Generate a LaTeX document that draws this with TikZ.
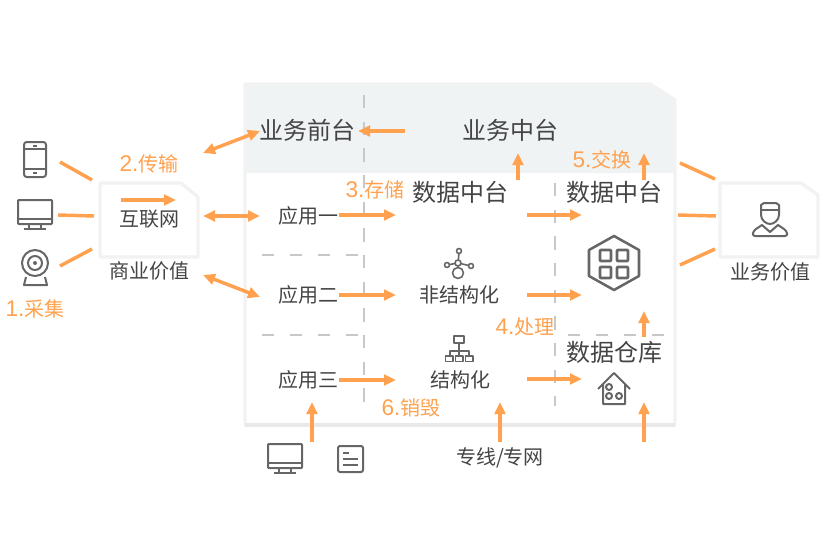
\documentclass[tikz,border=0pt]{standalone}
\usepackage{fontspec}
\setmainfont{Noto Sans CJK SC}
\newfontfamily\digitfont{Liberation Sans}
\usetikzlibrary{arrows.meta,positioning}
\definecolor{accent}{HTML}{FFA14F}
\definecolor{ink}{HTML}{444444}
\definecolor{iconc}{HTML}{666666}
\definecolor{band}{HTML}{F0F3F4}
\definecolor{edge}{HTML}{F2F2F2}
\definecolor{edgedark}{HTML}{E9E9E9}
\definecolor{dashc}{HTML}{C8C8C8}
\newcommand{\stepno}[1]{{\digitfont\fontsize{17}{17}\selectfont #1.}}
\tikzset{
  big/.style={text=ink, inner sep=0pt, font=\fontsize{18}{18}\selectfont},
  mid/.style={text=ink, inner sep=0pt, font=\fontsize{15}{15}\selectfont},
  step label/.style={text=accent, inner sep=0pt, font=\fontsize{15}{15}\selectfont},
  arrow/.style={-{Triangle[length=9pt,width=8pt]}, accent, line width=2.6pt},
  both/.style={{Triangle[length=9pt,width=8pt]}-{Triangle[length=9pt,width=8pt]}, accent, line width=2.6pt},
  link/.style={accent, line width=2.6pt},
  divider/.style={dashc, line width=1.5pt, dash pattern=on 10pt off 10pt},
  thin divider/.style={dashc, line width=.8pt, dash pattern=on 9pt off 12pt},
  icon/.style={iconc, line width=1.5pt, line join=round},
  small icon/.style={iconc, line width=1.2pt, line join=round},
  sheet/.style={edge, line width=2.5pt, line join=round},
  sheet foot/.style={edgedark, line width=3pt},
  pics/screen/.style={code={
    \draw[icon, rounded corners=.5pt] (-17,-12) rectangle (17,12);
    \draw[icon] (-17,7) -- (17,7) (-6,12) -- (-6,17) (6,12) -- (6,17) (-11,17) -- (11,17);
  }}
}
\begin{document}
\begin{tikzpicture}[x=0.75pt, y=-0.75pt]
\useasboundingbox (0,0) rectangle (825,560);
% main panel
\fill[band] (245,84) -- (650,84) -- (675,100) -- (675,173) -- (245,173) -- cycle;
\draw[sheet] (245,84) -- (650,84) -- (675,100) -- (675,425) -- (245,425) -- cycle;
\draw[sheet foot] (245,425) -- (675,425);
\draw[divider] (364,95) -- (364,408);
\draw[divider] (555,183) -- (555,406);
\draw[thin divider] (262,255) -- (360,255);
\draw[thin divider] (262,335) -- (360,335);
\draw[thin divider] (568,335) -- (665,335);
% side documents
\draw[sheet, fill=white] (100,183) -- (181,183) -- (198,197) -- (198,257) -- (100,257) -- cycle;
\draw[sheet, fill=white] (720,183) -- (801,183) -- (818,195) -- (818,257) -- (720,257) -- cycle;
% texts
\node[big] (front) at (307,130) {业务前台};
\node[big] (middle) at (510,130) {业务中台};
\node[big] (dataA) at (460,192) {数据中台};
\node[big] (dataB) at (614,192) {数据中台};
\node[big] (store) at (614,352) {数据仓库};
\node[mid] (web) at (149,219) {互联网};
\node[mid] (bizval) at (149,271) {商业价值};
\node[mid] (userval) at (770,272) {业务价值};
\node[mid] (appA) at (308,216) {应用一};
\node[mid] (appB) at (308,295) {应用二};
\node[mid] (appC) at (308,380) {应用三};
\node[mid] (unstruct) at (459,295) {非结构化};
\node[mid] (struct) at (460,380) {结构化};
\node[mid] (line) at (500,458) {专线/专网};
\node[step label] (s1) at (35,309) {\stepno{1}采集};
\node[step label] (s2) at (149,164) {\stepno{2}传输};
\node[step label] (s3) at (375,190) {\stepno{3}存储};
\node[step label] (s4) at (525,327) {\stepno{4}处理};
\node[step label] (s5) at (602,160) {\stepno{5}交换};
\node[step label] (s6) at (411,408) {\stepno{6}销毁};
% free ends
\coordinate (p1) at (60,162); \coordinate (q1) at (92,180);
\coordinate (p2) at (58,215); \coordinate (q2) at (94,216);
\coordinate (p3) at (60,266); \coordinate (q3) at (92,249);
\coordinate (p4) at (680,163); \coordinate (q4) at (715,179);
\coordinate (p5) at (678,215); \coordinate (q5) at (716,216);
\coordinate (p6) at (680,265); \coordinate (q6) at (715,249);
\coordinate (w1) at (121,200); \coordinate (w2) at (176,200);
\coordinate (b1) at (203,153); \coordinate (b2) at (203,216); \coordinate (b3) at (203,275);
\coordinate (b4) at (582,215); \coordinate (b5) at (582,295); \coordinate (b6) at (582,379);
\coordinate (a1) at (396,215); \coordinate (a2) at (396,295); \coordinate (a3) at (396,380);
\coordinate (m1) at (527,215); \coordinate (m2) at (527,295); \coordinate (m3) at (527,379);
\coordinate (u1) at (518,180); \coordinate (u2) at (518,153);
\coordinate (u3) at (644,180); \coordinate (u4) at (644,153);
\coordinate (u5) at (644,337); \coordinate (u6) at (644,311);
\coordinate (d1) at (312,442); \coordinate (d2) at (312,402);
\coordinate (d3) at (500,442); \coordinate (d4) at (500,402);
\coordinate (d5) at (644,442); \coordinate (d6) at (644,402);
\coordinate (f1) at (405,131); \coordinate (f2) at (358,131);
\coordinate (g1) at (260,131); \coordinate (g2) at (260,216); \coordinate (g3) at (260,297);
\coordinate (t1) at (339,215); \coordinate (t2) at (339,295); \coordinate (t3) at (339,380);
% connectors
\draw[link] (p1) -- (q1);
\draw[link] (p2) -- (q2);
\draw[link] (p3) -- (q3);
\draw[link] (p4) -- (q4);
\draw[link] (p5) -- (q5);
\draw[link] (p6) -- (q6);
\draw[arrow] (w1) -- (w2);
\draw[both] (b1) -- (g1);
\draw[both] (b2) -- (g2);
\draw[both] (b3) -- (g3);
\draw[arrow] (f1) -- (f2);
\foreach \a/\b in {t1/a1,t2/a2,t3/a3,m1/b4,m2/b5,m3/b6,u1/u2,u3/u4,u5/u6,d1/d2,d3/d4,d5/d6}
  \draw[arrow] (\a) -- (\b);
% icons
\draw[icon, rounded corners=2pt] (24,142) rectangle (46,177);
\draw[icon] (24,149) -- (46,149) (24,169) -- (46,169) (33,145.5) -- (37,145.5) (33,173) -- (37,173);
\pic at (35,212) {screen};
\pic at (285,456) {screen};
\draw[icon] (35,263) circle (13) (35,263) circle (7);
\fill[iconc] (35,263) circle (2);
\draw[icon] (26,277) -- (24,285) -- (47,285) -- (45,277);
\draw[icon, rounded corners=1.5pt] (338,446) rectangle (363,472);
\draw[icon] (343,453) -- (349,453) (343,459) -- (358,459) (343,465) -- (358,465);
% network icon
\draw[small icon] (458,263) -- (459,253) (458,263) -- (447,265) (458,263) -- (471,266) (458,263) -- (458,267);
\draw[small icon, fill=white] (458,263) circle (3) (459,251) circle (2.5) (447,265) circle (2.5) (471,266) circle (2.5) (458,273) circle (5.5);
% hierarchy icon
\draw[small icon] (454,336) rectangle (464,343) (459,343) -- (459,351) (450,356) -- (450,351) -- (469,351) -- (469,356) (459,351) -- (459,356);
\draw[small icon] (445.5,356) rectangle (453,361.5) (455.5,356) rectangle (463,361.5) (465.5,356) rectangle (473,361.5);
% hexagon icon
\draw[icon, line width=1.9pt] (614,236) -- (639,250) -- (639,276) -- (614,290) -- (589,276) -- (589,250) -- cycle;
\draw[icon, line width=1.9pt, rounded corners=.5pt] (600,250) rectangle (611,261) (617,250) rectangle (628,261) (600,267) rectangle (611,278) (617,267) rectangle (628,278);
% person icon
\draw[icon] (761,205) -- (764,203) -- (776,203) -- (779,205) -- (779,215) .. controls (779,220) and (774,224) .. (770,224) .. controls (766,224) and (761,220) .. (761,215) -- cycle;
\draw[icon] (761,210) -- (779,210);
\draw[icon] (762,225) -- (756,229) .. controls (752,232) and (752,236) .. (755,236) -- (785,236) .. controls (788,236) and (788,232) .. (784,229) -- (778,225) -- (770,232) -- cycle;
% house icon
\draw[icon] (598,389) -- (614,373) -- (630,389) (603,384) -- (603,404) -- (625,404) -- (625,384);
\draw[icon] (609,387) circle (3) (609,396) circle (3) (619,396) circle (3);
\end{tikzpicture}
\end{document}
